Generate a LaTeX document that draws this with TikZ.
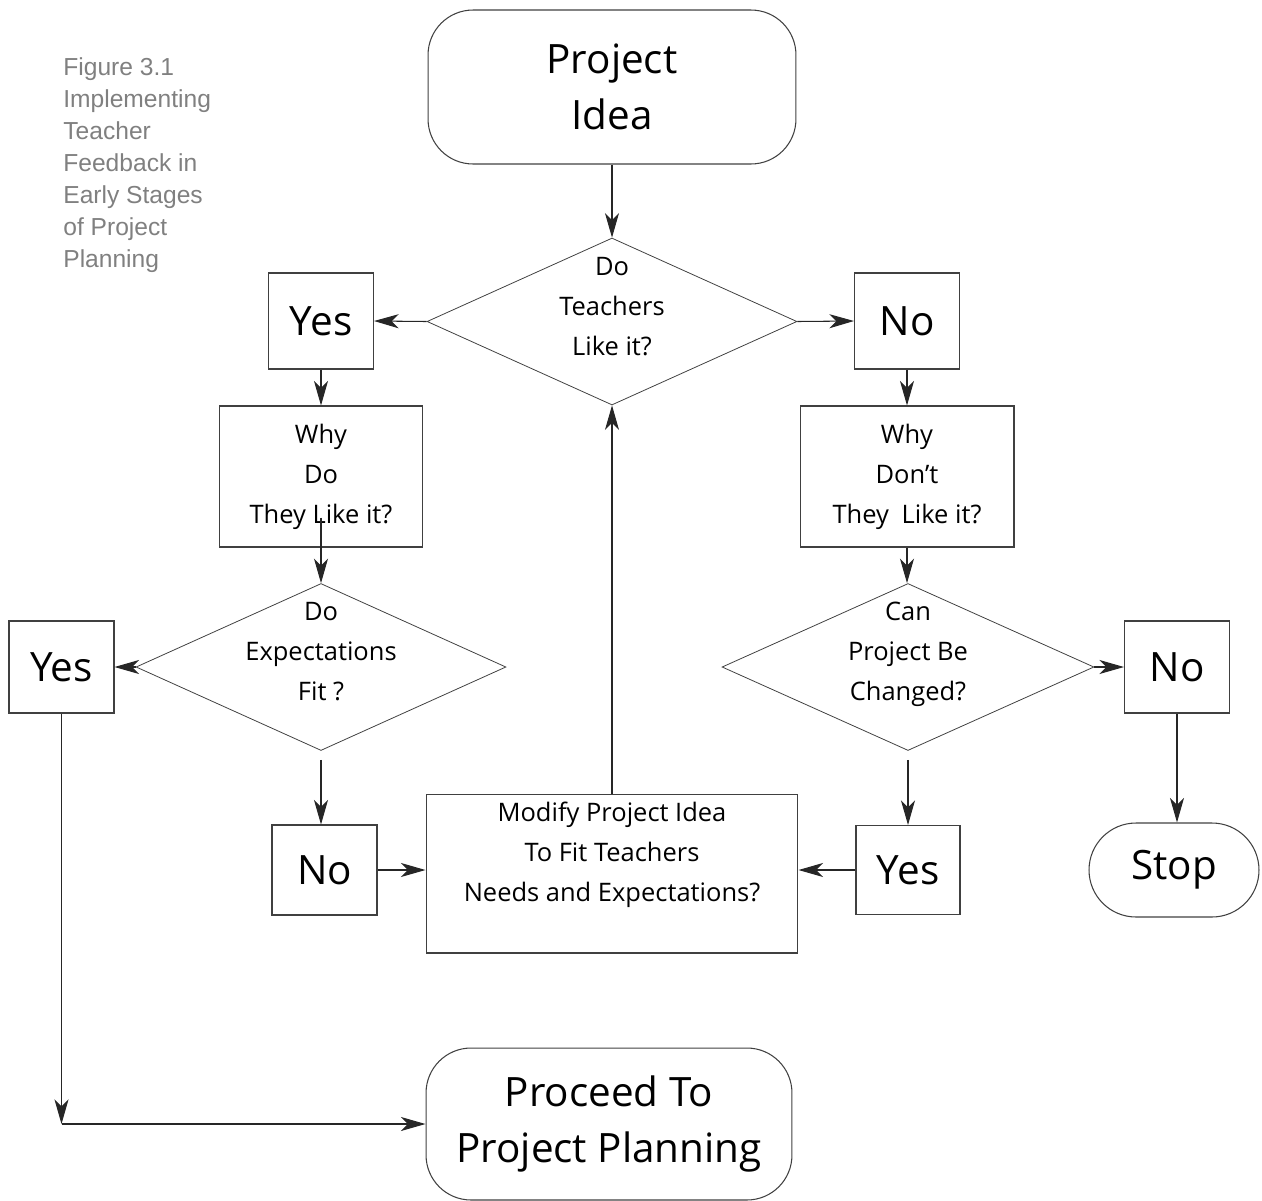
\documentclass[tikz,border=0pt]{standalone}
\usepackage{fontspec}
\setmainfont{Open Sans}
\newfontfamily\capfont{Liberation Sans}
\usepackage{tikz}
\usetikzlibrary{arrows.meta, positioning}
\usetikzlibrary{shapes.geometric}
\newcommand\cx{612}

\begin{document}
\begin{tikzpicture}[x=0.02cm, y=-0.02cm,
    box/.style={rectangle, draw=black!75, line width=0.6pt, inner sep=0pt},
    decision/.style={diamond, draw=black!75, line width=0.45pt, inner sep=0pt, minimum width=7.4cm, minimum height=3.34cm},
    terminal/.style={rectangle, rounded corners=0.9cm, draw=black!75, line width=0.6pt, inner sep=0pt},
    bigtxt/.style={font=\fontsize{23}{32}\selectfont, align=center},
    midtxt/.style={font=\fontsize{14.5}{22.8}\selectfont, align=center},
    flow/.style={-{Stealth[length=14pt, width=8pt, inset=4pt]}, draw=black!85, line width=0.6pt}]

    \useasboundingbox (0,0) rectangle (1262,1201);

    % Caption
    \node at (63, 57) [anchor=north west, inner sep=0pt, align=left, text=black!50, font=\capfont\fontsize{14}{18.2}\selectfont] (title) {Figure 3.1\\Implementing\\Teacher\\Feedback in\\Early Stages\\of Project\\Planning};

    % Top of the chart
    \node at (\cx, 87) [terminal, bigtxt, minimum width=7.36cm, minimum height=3.08cm] (idea) {Project\\Idea};
    \node at (\cx, 321.5) [decision] (teach) {};
    \node at (\cx, 307) [midtxt] (teachtxt) {Do\\Teachers\\Like it?};
    \node at (321, 321) [box, bigtxt, minimum width=2.1cm, minimum height=1.92cm] (yes1) {Yes};
    \node at (907, 321) [box, bigtxt, minimum width=2.1cm, minimum height=1.92cm] (no1) {No};

    % Left branch
    \node at (321, 476.5) [box, midtxt, minimum width=4.06cm, minimum height=2.82cm] (whydo) {Why\\Do\\They Like it?};
    \node at (321, 667) [decision] (expect) {};
    \node at (321, 652) [midtxt] (expecttxt) {Do\\Expectations\\Fit ?};
    \node at (61.5, 667) [box, bigtxt, minimum width=2.1cm, minimum height=1.84cm] (yes2) {Yes};
    \node at (324.5, 870) [box, bigtxt, minimum width=2.1cm, minimum height=1.8cm] (no2) {No};

    % Right branch
    \node at (907, 476.5) [box, midtxt, minimum width=4.28cm, minimum height=2.82cm] (whydont) {Why\\Don’t\\They\enspace Like it?};
    \node at (908, 667) [decision, minimum width=7.44cm] (change) {};
    \node at (908, 654) [midtxt] (changetxt) {Can\\Project Be\\Changed?};
    \node at (1177, 667) [box, bigtxt, minimum width=2.1cm, minimum height=1.84cm] (no3) {No};
    \node at (908, 870) [box, bigtxt, minimum width=2.08cm, minimum height=1.78cm] (yes3) {Yes};
    \node at (1174, 870) [terminal, bigtxt, rounded corners=0.94cm, minimum width=3.4cm, minimum height=1.88cm] (stop) {Stop};

    % Bottom
    \node at (\cx, 873.5) [box, minimum width=7.44cm, minimum height=3.18cm] (modify) {};
    \node at (\cx, 855) [midtxt] (modifytxt) {Modify Project Idea\\To Fit Teachers\\Needs and Expectations?};
    \node at (609, 1124) [terminal, bigtxt, minimum width=7.32cm, minimum height=3.04cm] (proceed) {Proceed To\\Project Planning};
    \coordinate (turn) at (yes2.south |- proceed.west);

    \draw[flow] (idea.south) -- (teach.north);
    \draw[flow] (teach.west) -- (yes1.east);
    \draw[flow] (teach.east) -- (no1.west);
    \draw[flow] (yes1.south) -- (whydo.north);
    \draw[flow] (no1.south) -- (whydont.north);
    \draw[flow] ([yshift=0.6cm]whydo.south) -- (expect.north);
    \draw[flow] (whydont.south) -- (whydont.south |- change.north);
    \draw[flow] (expect.west) -- (yes2.east);
    \draw[flow, shorten <=0.18cm] (expect.south) -- (expect.south |- no2.north);
    \draw[flow] (change.east) -- (no3.west);
    \draw[flow, shorten <=0.18cm] (change.south) -- (yes3.north);
    \draw[flow] (no3.south) -- (no3.south |- stop.north);
    \draw[flow] (no2.east) -- (no2.east -| modify.west);
    \draw[flow] (yes3.west) -- (yes3.west -| modify.east);
    \draw[flow] (modify.north) -- (teach.south);
    \draw[flow] (yes2.south) -- (turn);
    \draw[flow] (turn) -- (proceed.west);
\end{tikzpicture}
\end{document}
